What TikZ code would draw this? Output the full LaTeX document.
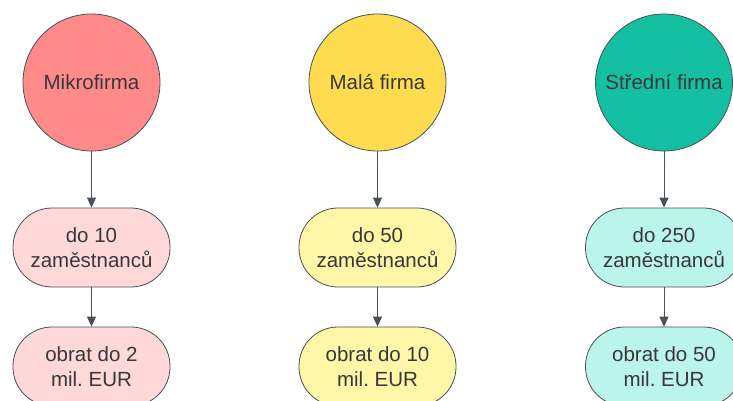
\documentclass[tikz,border=0pt]{standalone}
\usepackage{fontspec}
\setmainfont{Liberation Sans}
\usepackage{xcolor}
\usetikzlibrary{arrows.meta}
\frenchspacing

\definecolor{mikroC}{HTML}{FF8A8A}
\definecolor{mikroB}{HTML}{FFD8D8}
\definecolor{malaC}{HTML}{FFDC4F}
\definecolor{malaB}{HTML}{FFF6A8}
\definecolor{stredniC}{HTML}{14C0A1}
\definecolor{stredniB}{HTML}{BAF4EA}
\definecolor{edgeC}{HTML}{4A5058}
\definecolor{textC}{HTML}{383838}

\begin{document}
\begin{tikzpicture}[x=1pt,y=-1pt,
		firma/.style={circle, draw=edgeC, line width=0.8pt, minimum size=137pt, inner sep=0pt, text=textC, font=\fontsize{20.5}{25}\selectfont},
		krit/.style={rectangle, rounded corners=39pt, draw=edgeC, line width=0.8pt, minimum width=157pt, minimum height=79pt, inner sep=0pt, align=center, text=textC, font=\fontsize{20.5}{25}\selectfont},
		spoj/.style={draw=edgeC, line width=0.9pt, -{Triangle[length=10pt,width=9pt]}}]
		\useasboundingbox (0,0) rectangle (733,401);
		
		\foreach \x/\id/\nazev/\pocet/\obrat in {91.5/mikro/Mikrofirma/10/2, 377.5/mala/Malá firma/50/10, 664/stredni/Střední firma/250/50}{
			\node[firma, fill=\id C] (\id) at (\x,82.5) {\nazev};
			\node[krit, fill=\id B] (\id-zam) at (\x,247.5) {do \pocet\\zaměstnanců};
			\node[krit, fill=\id B] (\id-obr) at (\x,366.5) {obrat do \obrat\\mil. EUR};
			\draw[spoj] (\id) -- (\id-zam);
			\draw[spoj] (\id-zam) -- (\id-obr);
		}
	\end{tikzpicture}
\end{document}
